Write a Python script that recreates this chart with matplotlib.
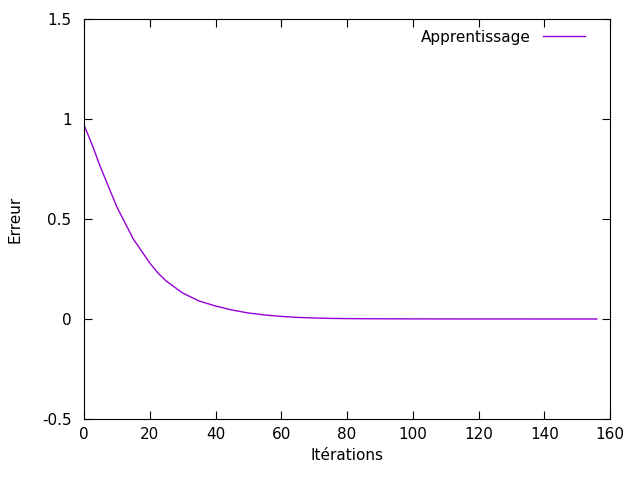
import matplotlib
matplotlib.use("Agg")
import matplotlib.pyplot as plt

iterations = [0, 2.5, 5, 7.5, 10, 12.5, 15, 17.5, 20, 22.5, 25, 27.5, 30, 35, 40, 45, 50, 55, 60, 65, 70,
              75, 80, 90, 100, 120, 140, 156]
erreur = [0.97, 0.87, 0.76, 0.66, 0.56, 0.48, 0.40, 0.34, 0.28, 0.23, 0.19, 0.16, 0.13, 0.09, 0.065,
          0.045, 0.03, 0.02, 0.013, 0.008, 0.005, 0.003, 0.002, 0.001, 0.0005, 0.0002, 0.0001, 0.0]

fig = plt.figure(figsize=(6.4, 4.8), dpi=100)
ax = fig.add_axes([84/640, 1-419/480, (610-84)/640, (419-19)/480])
ax.plot(iterations, erreur, color="#9400d3", lw=1, label="Apprentissage")
ax.set_xlim(0, 160)
ax.set_ylim(-0.5, 1.5)
ax.set_xticks(range(0, 161, 20))
ax.set_yticks([-0.5, 0, 0.5, 1, 1.5])
ax.set_yticklabels(["-0.5", "0", "0.5", "1", "1.5"])
ax.tick_params(direction="in", top=True, right=True, length=6, labelsize=11)
ax.tick_params(axis="x", pad=6)
ax.tick_params(axis="y", pad=9)
ax.set_xlabel("Itérations", fontsize=11)
ax.set_ylabel("Erreur", fontsize=11, labelpad=14)
ax.legend(loc="upper right", frameon=False, markerfirst=False, fontsize=11,
          handlelength=2.8, bbox_to_anchor=((590-84+6)/526, 1.0), borderaxespad=0.3)
fig.savefig("out.png", dpi=100)
